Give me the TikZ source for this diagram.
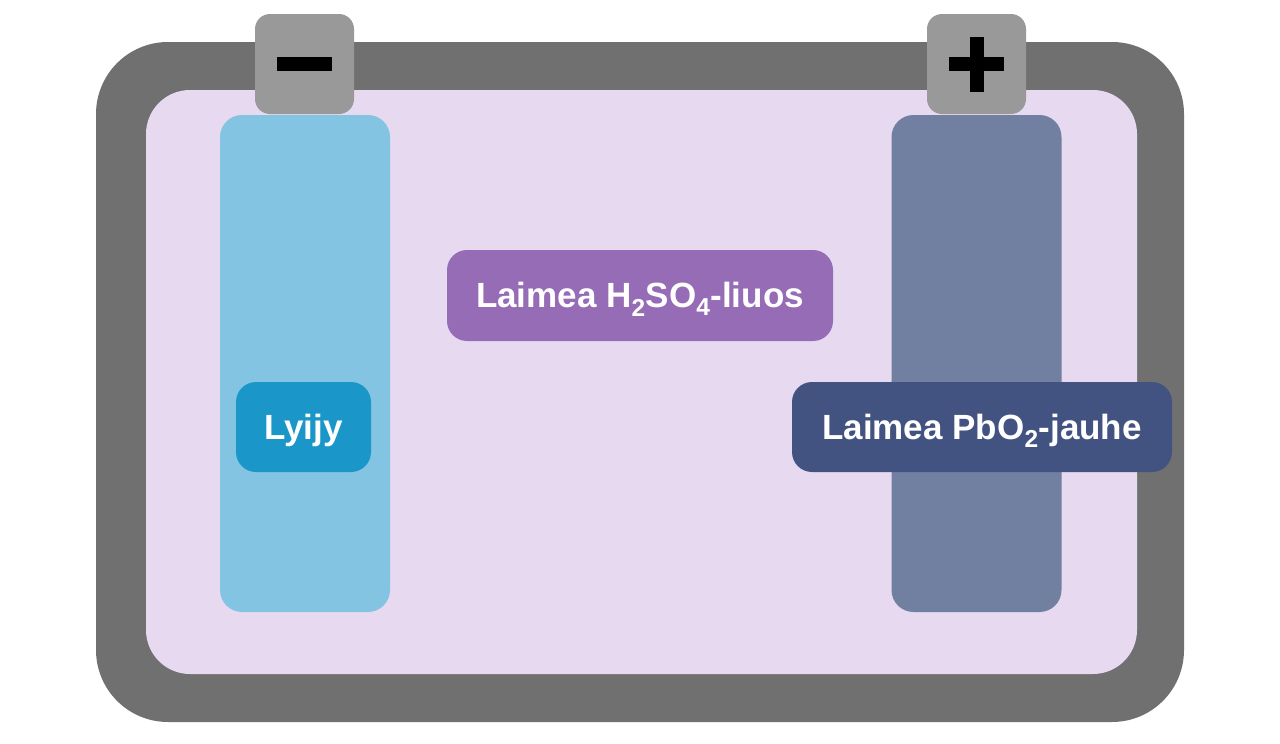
\documentclass[tikz,border=0pt]{standalone}
\usepackage{fontspec}
\setmainfont{Liberation Sans}
\usetikzlibrary{positioning}

\definecolor{casegray}{HTML}{707070}
\definecolor{acidbg}{HTML}{E7D9F0}
\definecolor{poleGray}{HTML}{999999}
\definecolor{leadblue}{HTML}{82C4E1}
\definecolor{oxideblue}{HTML}{717FA1}
\definecolor{leadtag}{HTML}{1B96C9}
\definecolor{acidtag}{HTML}{966CB6}
\definecolor{oxidetag}{HTML}{435381}

\tikzset{
  pole/.style={fill=poleGray, rounded corners=15pt, minimum width=99pt, minimum height=100pt, inner sep=0pt},
  plate/.style={rounded corners=22pt, minimum width=170pt, minimum height=497pt, inner sep=0pt},
  tag/.style={rounded corners=20pt, minimum height=90pt, inner sep=0pt, text=white,
    text height=26pt, text depth=2pt,
    font=\fontsize{35}{42}\selectfont\bfseries}
}

\begin{document}
\begin{tikzpicture}[x=1pt,y=-1pt]
\useasboundingbox (0,0) rectangle (1280,744);

\fill [casegray, rounded corners=72pt] (96,42) rectangle (1184,722);  %%akun kuori
\fill [acidbg, rounded corners=44pt] (146,90) rectangle (1137,674);   %%liuos

\node [pole] (minuspole) at (304.5,64) {};
\node [pole] (pluspole) at (976.5,64) {};
\fill [black] ([xshift=-27.5pt,yshift=-7pt]minuspole.center) rectangle ([xshift=27.5pt,yshift=7pt]minuspole.center);  %%miinus
\fill [black] ([xshift=-27.5pt,yshift=-7pt]pluspole.center) rectangle ([xshift=27.5pt,yshift=7pt]pluspole.center);    %%plus
\fill [black] ([xshift=-7pt,yshift=-27.5pt]pluspole.center) rectangle ([xshift=7pt,yshift=27.5pt]pluspole.center);

\node [plate, fill=leadblue] (leadplate) at (305,363.5) {};
\node [plate, fill=oxideblue] (oxideplate) at (976.5,363.5) {};

\node [tag, fill=leadtag, minimum width=135pt] (lyijy) at (303.5,427) {Lyijy};
\node [tag, fill=acidtag, minimum width=386pt, minimum height=91pt] (liuos) at (640,295.5) {Laimea H\textsubscript{2}SO\textsubscript{4}-liuos};
\node [tag, fill=oxidetag, minimum width=380pt] (jauhe) at (982,427) {Laimea PbO\textsubscript{2}-jauhe};

\end{tikzpicture}
\end{document}
